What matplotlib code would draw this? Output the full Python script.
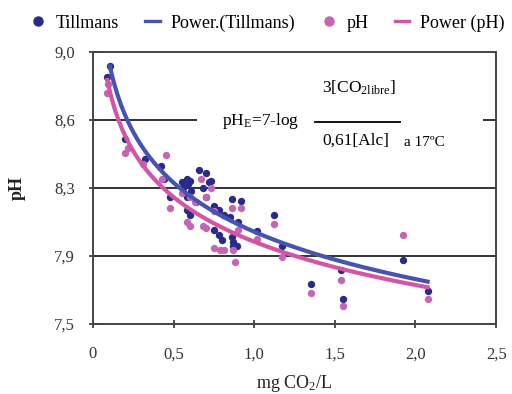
import numpy as np
import matplotlib
matplotlib.use("Agg")
import matplotlib.pyplot as plt
from matplotlib.patches import Rectangle
from matplotlib.lines import Line2D

plt.rcParams["font.family"] = ["Liberation Serif", "DejaVu Serif"]
plt.rcParams["mathtext.fontset"] = "custom"
plt.rcParams["mathtext.rm"] = "Liberation Serif"
plt.rcParams["mathtext.it"] = "Liberation Serif:italic"

# ---------- data ---------- #
till_x = [0.105, 0.09, 0.20, 0.32, 0.42, 0.44, 0.48, 0.55, 0.58, 0.60, 0.59,
          0.56, 0.61, 0.58, 0.66, 0.70, 0.73, 0.68, 0.70, 0.58, 0.60, 0.64,
          0.72, 0.75, 0.78, 0.81, 0.85, 0.86, 0.92, 0.90, 0.75, 0.78, 0.80,
          0.86, 0.87, 0.87, 0.89, 1.02, 1.12, 1.17, 1.35, 1.54, 1.55, 1.925,
          2.075]
till_y = [8.92, 8.86, 8.52, 8.41, 8.37, 8.30, 8.20, 8.28, 8.30, 8.29, 8.27,
          8.25, 8.23, 8.20, 8.35, 8.33, 8.29, 8.25, 8.20, 8.13, 8.10, 8.17,
          8.28, 8.15, 8.13, 8.10, 8.09, 8.19, 8.18, 8.06, 8.02, 7.99, 7.96,
          7.98, 7.95, 7.93, 7.93, 8.01, 8.10, 7.93, 7.72, 7.80, 7.64, 7.85,
          7.68]

ph_x = [0.095, 0.09, 0.22, 0.20, 0.45, 0.31, 0.43, 0.48, 0.67, 0.73, 0.58,
        0.60, 0.68, 0.55, 0.60, 0.63, 0.70, 0.75, 0.86, 0.92, 0.70, 0.75,
        0.79, 0.81, 0.87, 0.88, 0.90, 1.02, 1.12, 1.17, 1.35, 1.54, 1.55,
        1.925, 2.075]
ph_y = [8.82, 8.77, 8.47, 8.44, 8.43, 8.38, 8.30, 8.14, 8.30, 8.25, 8.06,
        8.04, 8.04, 8.22, 8.20, 8.17, 8.20, 8.12, 8.14, 8.14, 8.03, 7.92,
        7.91, 7.91, 7.91, 7.84, 8.02, 7.97, 8.05, 7.87, 7.67, 7.74, 7.60,
        7.99, 7.64]

# power trendlines y = a * x**b, coefficients
till_a, till_b = 8.008, -0.0478
ph_a, ph_b = 7.953, -0.0439
till_range = (0.105, 2.075)
ph_range = (0.089, 2.075)

yticks = [7.5, 7.875, 8.25, 8.625, 9.0]
ytick_labels = ["7,5", "7,9", "8,3", "8,6", "9,0"]
xticks = [0, 0.5, 1.0, 1.5, 2.0, 2.5]
xtick_labels = ["0", "0,5", "1,0", "1,5", "2,0", "2,5"]

dot_blue = "#2a2a8a"
dot_pink = "#c466b5"
line_blue = "#4753b0"
line_pink = "#d455a5"

# ---------- plotting ---------- #
fig = plt.figure(figsize=(5.12, 3.94), dpi=100)
ax = fig.add_axes([0.1816, 0.1777, 0.7874, 0.6913])

ax.scatter(till_x, till_y, s=28, color=dot_blue, zorder=3, linewidths=0)
ax.scatter(ph_x, ph_y, s=28, color=dot_pink, zorder=3, linewidths=0)

xs = np.linspace(*till_range, 200)
ax.plot(xs, till_a * xs ** till_b, color=line_blue, lw=3, zorder=4)
xs = np.linspace(*ph_range, 200)
ax.plot(xs, ph_a * xs ** ph_b, color=line_pink, lw=3, zorder=4)

ax.set_xlim(0, 2.5)
ax.set_ylim(7.5, 9.0)
ax.set_xticks(xticks)
ax.set_xticklabels(xtick_labels)
ax.set_yticks(yticks)
ax.set_yticklabels(ytick_labels)
ax.tick_params(axis="both", direction="inout", length=6, width=1.2,
               labelsize=12, colors="#333333")
ax.tick_params(axis="x", pad=13)
ax.tick_params(axis="y", pad=10)
ax.yaxis.grid(True, color="#222222", lw=1.3, zorder=1)
ax.set_axisbelow(True)
for sp in ax.spines.values():
    sp.set_color("#444444")
    sp.set_linewidth(1.4)

ax.set_xlabel("mg CO$_2$/L", fontsize=13, color="#222222", labelpad=8)
ax.set_ylabel("pH", fontsize=13, color="#222222", fontweight="bold",
              labelpad=20)

# formula box over the grid line
ax.add_patch(Rectangle((0.645, 8.44), 1.775, 0.42, transform=ax.transData,
                       facecolor="white", edgecolor="none", zorder=2))
ax.text(0.80, 8.62, r"pH$_\mathrm{E}$=7-log", fontsize=12.5, va="center",
        ha="left", zorder=5)
ax.text(1.647, 8.80, r"3[CO$_\mathrm{2libre}$]", fontsize=12.5, va="center",
        ha="center", zorder=5)
ax.plot([1.377, 1.905], [8.613, 8.613], color="black", lw=1.3, zorder=5)
ax.text(1.42, 8.51, "0,61[Alc]", fontsize=12.5, va="center", ha="left",
        zorder=5)
ax.text(1.93, 8.50, "a 17ºC", fontsize=11, va="center", ha="left", zorder=5)

handles = [
    Line2D([], [], marker="o", ls="none", color=dot_blue, markersize=6.5),
    Line2D([], [], color=line_blue, lw=2.4),
    Line2D([], [], marker="o", ls="none", color=dot_pink, markersize=6.5),
    Line2D([], [], color=line_pink, lw=2.4),
]
labels = ["Tillmans", "Power.(Tillmans)", "pH", "Power (pH)"]
fig.legend(handles, labels, loc="upper center", bbox_to_anchor=(0.523, 1.005),
           ncol=4, frameon=False, fontsize=13, handlelength=0.8,
           handletextpad=0.6, columnspacing=1.45)

fig.savefig("out.png", dpi=100)
